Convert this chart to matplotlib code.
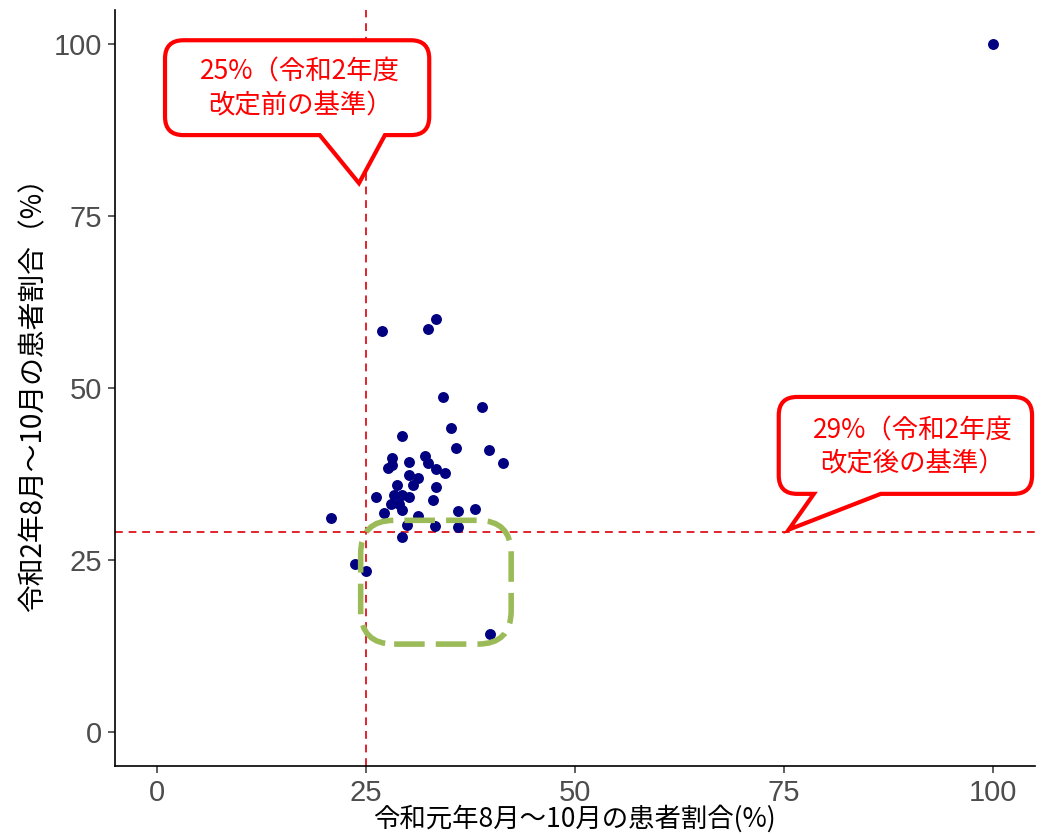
import matplotlib
matplotlib.use("Agg")
import matplotlib.pyplot as plt
from matplotlib.patches import FancyBboxPatch, PathPatch
from matplotlib.path import Path

plt.rcParams['font.family'] = ['Noto Sans CJK JP', 'DejaVu Sans']

# Data (percent)
x_2019 = [100.0, 27.0, 33.4, 32.5, 34.2, 38.9, 35.2, 29.3, 35.8, 39.7, 41.4, 32.1,
          28.1, 30.2, 32.4, 27.7, 28.2, 33.4, 34.5, 30.2, 31.3, 30.6, 33.4, 28.8,
          28.4, 29.4, 30.2, 33.0, 26.2, 28.0, 29.0, 29.4, 27.2, 31.3, 36.0, 38.1,
          29.9, 33.3, 36.0, 29.4, 20.9, 23.7, 25.0, 39.9]
y_2020 = [100.0, 58.3, 60.0, 58.6, 48.7, 47.2, 44.2, 43.0, 41.3, 41.0, 39.1, 40.1,
          39.8, 39.2, 39.1, 38.4, 38.8, 38.2, 37.6, 37.4, 36.9, 35.9, 35.6, 35.9,
          34.4, 34.4, 34.2, 33.7, 34.2, 33.1, 33.1, 32.3, 31.8, 31.4, 32.1, 32.4,
          30.1, 29.9, 29.8, 28.3, 31.1, 24.4, 23.4, 14.2]
threshold_before = 25
threshold_after = 29
ticks = [0, 25, 50, 75, 100]
xlabel = "令和元年8月～10月の患者割合(%)"
ylabel = "令和2年8月～10月の患者割合（%）"
note_before = "25%（令和2年度\n改定前の基準）"
note_after = "29%（令和2年度\n改定後の基準）"

fig = plt.figure(figsize=(10.44, 8.34), dpi=100)
ax = fig.add_axes([0.110, 0.0815, 0.881, 0.9065])
ax.set_xlim(-5, 105)
ax.set_ylim(-5, 105)

ax.axvline(threshold_before, color='#E0242B', lw=1.4, ls=(0, (4, 3)), zorder=1)
ax.axhline(threshold_after, color='#E0242B', lw=1.4, ls=(0, (4, 3)), zorder=1)

ax.scatter(x_2019, y_2020, s=62, color='#000080', zorder=3, linewidths=0)

# green dashed rounded box
gbox = FancyBboxPatch((26.2, 14.93), 14.4, 13.63,
                      boxstyle="round,pad=1.8,rounding_size=4",
                      fill=False, ec='#9BBB59', lw=4, ls=(0, (5.5, 2)), zorder=4,
                      mutation_aspect=8.37/6.88)
ax.add_patch(gbox)

def bubble(ax, x0, x1, y0, y1, tb0, tb1, tip, r=2.2):
    ry = r * 8.37 / 6.88
    verts = []
    codes = []
    verts += [(x0 + r, y1)]; codes += [Path.MOVETO]
    verts += [(x1 - r, y1)]; codes += [Path.LINETO]
    verts += [(x1, y1), (x1, y1 - ry)]; codes += [Path.CURVE3, Path.CURVE3]
    verts += [(x1, y0 + ry)]; codes += [Path.LINETO]
    verts += [(x1, y0), (x1 - r, y0)]; codes += [Path.CURVE3, Path.CURVE3]
    verts += [(tb1, y0), tip, (tb0, y0)]; codes += [Path.LINETO] * 3
    verts += [(x0 + r, y0)]; codes += [Path.LINETO]
    verts += [(x0, y0), (x0, y0 + ry)]; codes += [Path.CURVE3, Path.CURVE3]
    verts += [(x0, y1 - ry)]; codes += [Path.LINETO]
    verts += [(x0, y1), (x0 + r, y1)]; codes += [Path.CURVE3, Path.CURVE3]
    verts += [(x0 + r, y1)]; codes += [Path.CLOSEPOLY]
    p = PathPatch(Path(verts, codes), fc='white', ec='#FF0000', lw=3,
                  zorder=5, clip_on=False, joinstyle='miter')
    ax.add_patch(p)

bubble(ax, 1.0, 32.6, 86.8, 100.6, 19.5, 27.3, (24.2, 79.8))
ax.text(17.2, 93.5, note_before, ha='center', va='center', color='#FF0000',
        fontsize=19, linespacing=1.3, zorder=6)

bubble(ax, 74.4, 104.7, 34.6, 48.7, 78.6, 86.6, (75.6, 29.4))
ax.text(90.4, 41.4, note_after, ha='center', va='center', color='#FF0000',
        fontsize=19, linespacing=1.3, zorder=6, clip_on=False)

for s in ['top', 'right']:
    ax.spines[s].set_visible(False)
for s in ['left', 'bottom']:
    ax.spines[s].set_linewidth(1.2)
    ax.spines[s].set_color('black')

tick_font = ['Liberation Sans', 'DejaVu Sans']
ax.set_xticks(ticks)
ax.set_yticks(ticks)
ax.set_xticklabels([str(t) for t in ticks], family=tick_font)
ax.set_yticklabels([str(t) for t in ticks], family=tick_font)
ax.tick_params(axis='both', colors='#333333', labelcolor='#4D4D4D', labelsize=21,
               length=5, width=1.1, pad=4)

ax.set_xlabel(xlabel, fontsize=19, color='black', labelpad=-1)
ax.set_ylabel(ylabel, fontsize=20, color='black', labelpad=4)

fig.savefig("out.png", dpi=100)
